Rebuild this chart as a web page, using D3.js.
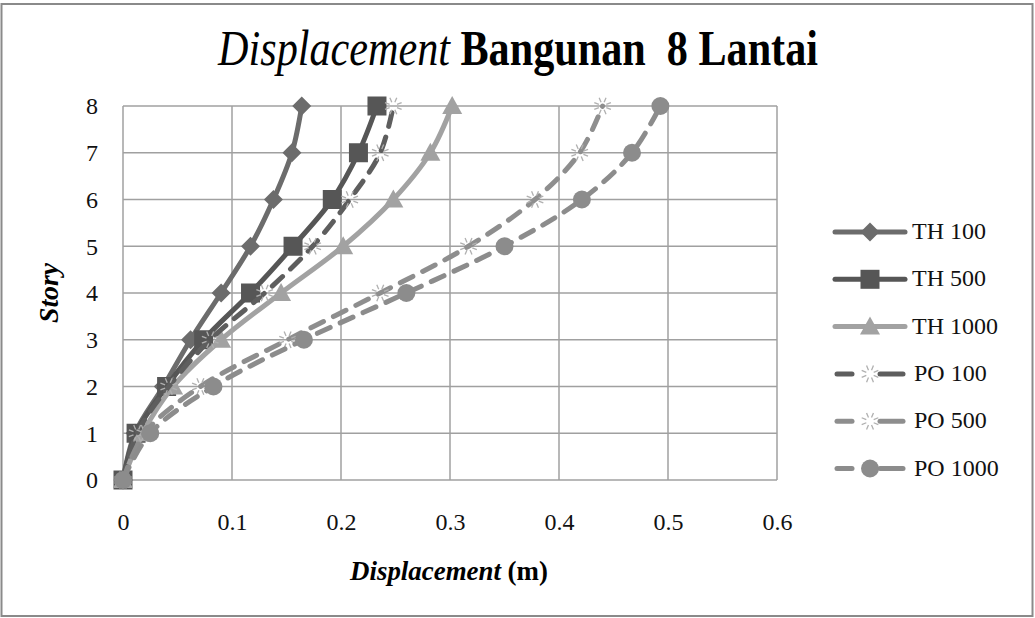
<!DOCTYPE html>
<html>
<head>
<meta charset="utf-8">
<script src="https://cdn.jsdelivr.net/npm/d3@7"></script>
<style>
  html, body { margin: 0; padding: 0; background: #fff; }
  svg { display: block; font-family: "Liberation Serif", "Times New Roman", serif; }
</style>
</head>
<body>
<svg id="chart" width="1035" height="618"></svg>
<script>
// ---- data ----
const stories = [0, 1, 2, 3, 4, 5, 6, 7, 8];
const th100  = [0, 0.011, 0.037, 0.062, 0.090, 0.117, 0.138, 0.155, 0.164];
const th500  = [0, 0.012, 0.040, 0.074, 0.117, 0.156, 0.192, 0.216, 0.233];
const th1000 = [0, 0.018, 0.046, 0.090, 0.145, 0.202, 0.248, 0.282, 0.302];
const po100  = [0, 0.013, 0.042, 0.080, 0.130, 0.174, 0.208, 0.236, 0.248];
const po500  = [0, 0.020, 0.071, 0.151, 0.236, 0.317, 0.378, 0.419, 0.440];
const po1000 = [0, 0.025, 0.083, 0.166, 0.260, 0.350, 0.421, 0.467, 0.493];
const seriesNames = ["TH 100", "TH 500", "TH 1000", "PO 100", "PO 500", "PO 1000"];
const xTicks = [0, 0.1, 0.2, 0.3, 0.4, 0.5, 0.6];
const yTicks = [0, 1, 2, 3, 4, 5, 6, 7, 8];
const titleItalic = "Displacement";
const titleBold = " Bangunan  8 Lantai";
const xTitleItalic = "Displacement";
const xTitleRest = " (m)";
const yTitle = "Story";

// ---- styles ----
const styles = [
  { color: "#6c6c6c", dash: null, marker: "diamond" },
  { color: "#565656", dash: null, marker: "square" },
  { color: "#a2a2a2", dash: null, marker: "triangle" },
  { color: "#5e5e5e", dash: "14,11", marker: "star" },
  { color: "#8e8e8e", dash: "14,11", marker: "star" },
  { color: "#8c8c8c", dash: "14,11", marker: "circle" }
];
const allValues = [th100, th500, th1000, po100, po500, po1000];
const series = seriesNames.map((n, i) => ({
  name: n, style: styles[i],
  points: stories.map((s, j) => ({ s: s, v: allValues[i][j] }))
}));

const svg = d3.select("#chart");
const margin = { left: 123, right: 258, top: 106, bottom: 138 };
const W = 1035, H = 618;
const x = d3.scaleLinear().domain([0, 0.6]).range([margin.left, W - margin.right]);
const y = d3.scaleLinear().domain([0, 8]).range([H - margin.bottom, margin.top]);

// outer border
svg.append("rect").attr("x", 1.5).attr("y", 4).attr("width", 1031).attr("height", 612)
  .attr("fill", "#fff").attr("stroke", "#8a8a8a").attr("stroke-width", 2);

// grid
const grid = svg.append("g");
grid.selectAll("line.v").data(xTicks).join("line")
  .attr("x1", d => x(d)).attr("x2", d => x(d))
  .attr("y1", y(0)).attr("y2", y(8))
  .attr("stroke", "#a0a0a0").attr("stroke-width", 1.5);
grid.selectAll("line.h").data(yTicks).join("line")
  .attr("x1", x(0)).attr("x2", x(0.6))
  .attr("y1", d => y(d)).attr("y2", d => y(d))
  .attr("stroke", "#a0a0a0").attr("stroke-width", 1.5);

// axes (using d3 axes, styled as labels only)
const xAxis = svg.append("g").attr("transform", `translate(0,${y(0)})`)
  .call(d3.axisBottom(x).tickValues(xTicks).tickFormat(d => d === 0 ? "0" : d3.format(".1f")(d)).tickSize(0).tickPadding(0));
xAxis.select(".domain").remove();
xAxis.selectAll("text").attr("font-size", 24).attr("fill", "#111")
  .attr("font-family", "Liberation Serif").attr("dy", null).attr("y", 50);

const yAxis = svg.append("g").attr("transform", `translate(${x(0)},0)`)
  .call(d3.axisLeft(y).tickValues(yTicks).tickFormat(d3.format("d")).tickSize(0).tickPadding(25));
yAxis.select(".domain").remove();
yAxis.selectAll("text").attr("font-size", 24).attr("fill", "#111")
  .attr("font-family", "Liberation Serif").attr("dy", "0.33em");

// markers
function drawMarker(g, type, color, cx, cy) {
  if (type === "diamond") {
    const r = 9.5;
    g.append("path").attr("d", `M${cx},${cy - r}L${cx + r},${cy}L${cx},${cy + r}L${cx - r},${cy}Z`).attr("fill", color);
  } else if (type === "square") {
    const s = 19;
    g.append("rect").attr("x", cx - s / 2).attr("y", cy - s / 2).attr("width", s).attr("height", s).attr("fill", color);
  } else if (type === "triangle") {
    const r = 10;
    g.append("path").attr("d", `M${cx},${cy - r}L${cx + r},${cy + r * 0.8}L${cx - r},${cy + r * 0.8}Z`).attr("fill", color);
  } else if (type === "circle") {
    g.append("circle").attr("cx", cx).attr("cy", cy).attr("r", 9).attr("fill", color);
  } else if (type === "star") {
    for (let k = 0; k < 8; k++) {
      const a = k * Math.PI / 4 + Math.PI / 8;
      g.append("line")
        .attr("x1", cx + Math.cos(a) * 4).attr("y1", cy + Math.sin(a) * 4)
        .attr("x2", cx + Math.cos(a) * 9).attr("y2", cy + Math.sin(a) * 9)
        .attr("stroke", "#b0b0b0").attr("stroke-width", 1.3);
    }
  }
}

const line = d3.line().x(d => x(d.v)).y(d => y(d.s)).curve(d3.curveCatmullRom.alpha(0.5));
const plot = svg.append("g");
series.forEach(se => {
  const g = plot.append("g");
  g.append("path").datum(se.points).attr("d", line)
    .attr("fill", "none").attr("stroke", se.style.color).attr("stroke-width", 5)
    .attr("stroke-linecap", se.style.dash ? "round" : "butt")
    .attr("stroke-linejoin", "round")
    .attr("stroke-dasharray", se.style.dash);
  se.points.forEach(p => drawMarker(g, se.style.marker, se.style.color, x(p.v), y(p.s)));
});

// legend
const legend = svg.append("g");
series.forEach((se, i) => {
  const ly = 232 + i * 47.3;
  const g = legend.append("g");
  if (se.style.dash) {
    g.append("line").attr("x1", 837).attr("x2", 852).attr("y1", ly).attr("y2", ly)
      .attr("stroke", se.style.color).attr("stroke-width", 5).attr("stroke-linecap", "round");
    g.append("line").attr("x1", 880).attr("x2", 903).attr("y1", ly).attr("y2", ly)
      .attr("stroke", se.style.color).attr("stroke-width", 5).attr("stroke-linecap", "round");
  } else {
    g.append("line").attr("x1", 835).attr("x2", 905).attr("y1", ly).attr("y2", ly)
      .attr("stroke", se.style.color).attr("stroke-width", 5).attr("stroke-linecap", "round");
  }
  drawMarker(g, se.style.marker, se.style.color, 870, ly);
  g.append("text").attr("x", se.style.dash ? 914 : 912).attr("y", ly + 7)
    .attr("font-size", 24).attr("fill", "#111").text(se.name);
});

// fit text width helper
function fitWidth(sel, target, cx, cy, rotate) {
  const node = sel.node();
  const len = node.getComputedTextLength();
  const s = target / len;
  sel.attr("x", 0).attr("y", 0).attr("text-anchor", "middle")
    .attr("transform", `translate(${cx},${cy})${rotate ? " rotate(" + rotate + ")" : ""} scale(${s},1)`);
}

// title
const title = svg.append("text").attr("font-size", 50).attr("fill", "#000").attr("xml:space", "preserve");
title.append("tspan").attr("font-style", "italic").text(titleItalic);
title.append("tspan").attr("font-weight", "bold").text(titleBold);
fitWidth(title, 600, 518, 65);

// x title
const xt = svg.append("text").attr("font-size", 28).attr("fill", "#000").attr("font-weight", "bold");
xt.append("tspan").attr("font-style", "italic").text(xTitleItalic);
xt.append("tspan").text(xTitleRest);
fitWidth(xt, 198, 449, 580);

// y title
const yt = svg.append("text").attr("font-size", 28).attr("fill", "#000")
  .attr("font-weight", "bold").attr("font-style", "italic").text(yTitle);
fitWidth(yt, 60, 58, 293, -90);
</script>
</body>
</html>
